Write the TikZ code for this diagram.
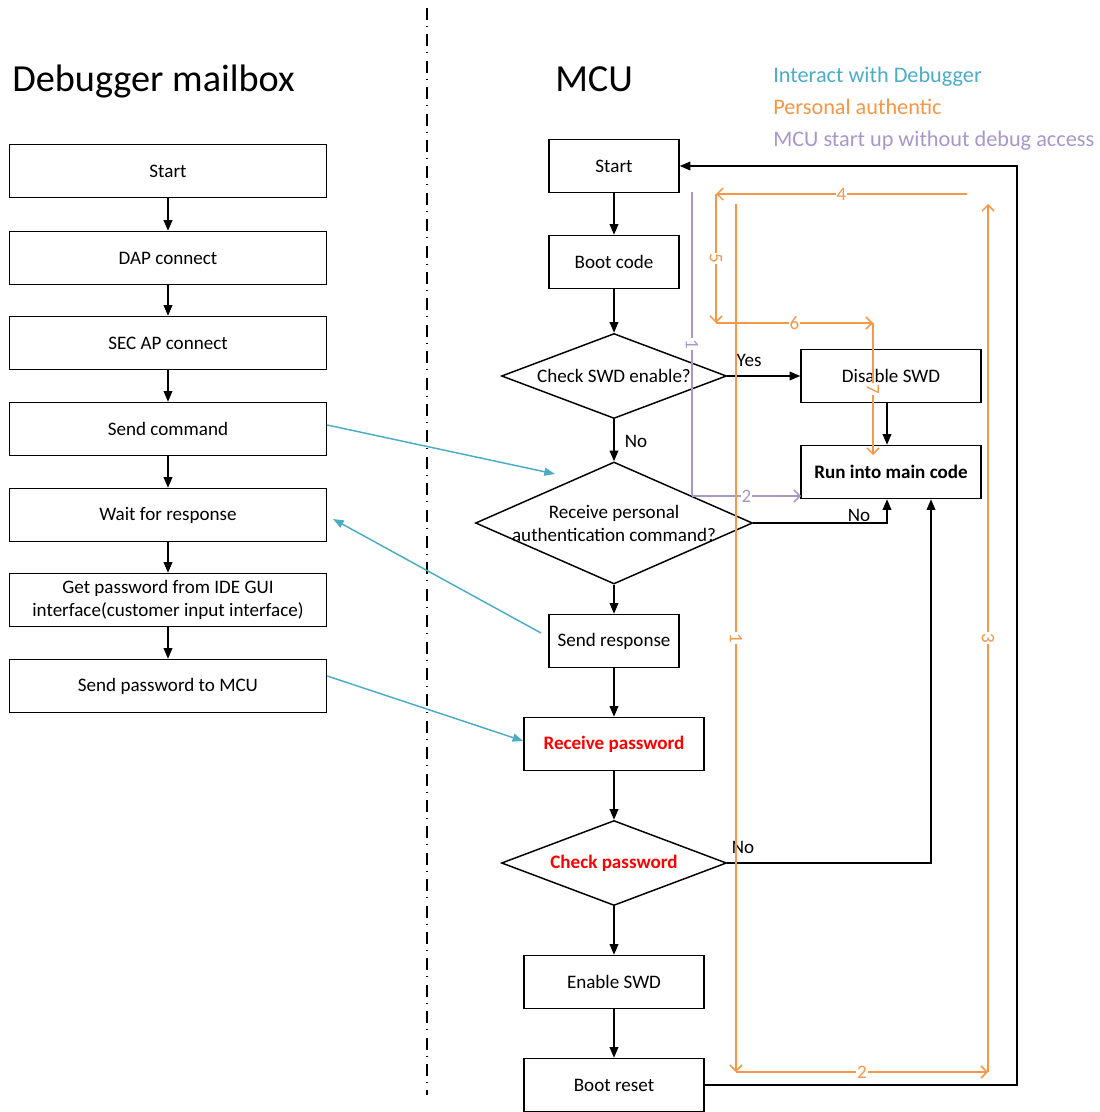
\documentclass[tikz,border=0pt]{standalone}
\usepackage{fontspec}
\setmainfont{Carlito}
\usetikzlibrary{arrows.meta,shapes.geometric,calc}
\definecolor{dbgcyan}{HTML}{4BACC6}
\definecolor{authorange}{HTML}{F79646}
\definecolor{bootpurple}{HTML}{A897C8}
\begin{document}
\begin{tikzpicture}[x=0.75pt,y=-0.75pt,
  txt/.style={font=\fontsize{14.3}{17.25}\selectfont},
  box/.style={draw, line width=1.1pt, inner sep=0pt, minimum height=39.75pt, align=center, txt},
  lbox/.style={box, minimum width=237.75pt},
  sbox/.style={box, minimum width=97.5pt},
  wbox/.style={box, minimum width=135pt},
  dia/.style={diamond, draw, line width=1.1pt, inner sep=0pt},
  flow/.style={line width=1.1pt, -{Triangle[length=8pt,width=6.5pt]}},
  link/.style={dbgcyan, line width=1.1pt, -{Triangle[length=8pt,width=6pt]}},
  auth/.style={authorange, line width=1.1pt, -{Straight Barb[length=4.5pt,width=9pt]}},
  bootln/.style={bootpurple, line width=1.1pt},
  boot/.style={bootln, -{Straight Barb[length=4.5pt,width=9pt]}},
  tag/.style={fill=white, inner sep=0.6pt, txt},
  redtxt/.style={text=red, font=\fontsize{14.3}{17.25}\selectfont\bfseries},
  title/.style={anchor=base west, inner sep=0pt, font=\fontsize{28.7}{34}\selectfont},
  legend/.style={anchor=base west, inner sep=0pt, font=\fontsize{16.7}{20}\selectfont}
]
\useasboundingbox (0,0) rectangle (1099,1112);

% headings and legend
\node[title] (tdbg) at (12,92) {Debugger mailbox};
\node[title] (tmcu) at (555,92) {MCU};
\node[legend, text=dbgcyan] (lgcyan) at (773,83) {Interact with Debugger};
\node[legend, text=authorange] (lgorange) at (773,115) {Personal authentic};
\node[legend, text=bootpurple] (lgpurple) at (773,147) {MCU start up without debug access};

% dash-dot separator
\coordinate (septop) at (427,8);
\coordinate (sepbot) at (427,1095);
\draw[line width=1.1pt, dash pattern=on 9pt off 4.5pt on 0.8pt off 5.5pt] (septop) -- (sepbot);

% debugger mailbox column
\node[lbox] (dstart) at (168,171) {Start};
\node[lbox] (dap)    at (168,258) {DAP connect};
\node[lbox] (secap)  at (168,343) {SEC AP connect};
\node[lbox] (scmd)   at (168,429) {Send command};
\node[lbox] (wait)   at (168,515) {Wait for response};
\node[lbox] (getpw)  at (168,600) {Get password from IDE GUI\\interface(customer input interface)};
\node[lbox] (spw)    at (168,686) {Send password to MCU};
\draw[flow] (dstart) -- (dap);
\draw[flow] (dap) -- (secap);
\draw[flow] (secap) -- (scmd);
\draw[flow] (scmd) -- (wait);
\draw[flow] (wait) -- (getpw);
\draw[flow] (getpw) -- (spw);

% MCU column
\node[sbox] (rstart) at (614,166) {Start};
\node[sbox] (boot)   at (614,262) {Boot code};
\node[dia, minimum width=168.75pt, minimum height=63.75pt] (chk) at (614,376) {};
\node[txt] (chktxt) at (614,376) {Check SWD enable?};
\node[dia, minimum width=207.75pt, minimum height=91.5pt] (rcv) at (614,523) {};
\node[txt, align=center] (rcvtxt) at (614,523) {Receive personal\\authentication command?};
\node[sbox] (sresp) at (614,641) {Send response};
\node[wbox, redtxt] (rpw) at (614,744) {Receive password};
\node[dia, minimum width=168.75pt, minimum height=63.75pt] (chkpw) at (614,863) {};
\node[redtxt] (chkpwtxt) at (614,863) {Check password};
\node[wbox] (enswd) at (614,982) {Enable SWD};
\node[wbox] (reset) at (614,1085) {Boot reset};
\node[wbox] (dis)  at (891,376) {Disable SWD};
\node[wbox, font=\fontsize{14.3}{17.25}\selectfont\bfseries] (main) at (891,472) {Run into main code};

\draw[flow] (rstart) -- (boot);
\draw[flow] (boot) -- (chk.north);
\draw[flow] (chk.south) -- (rcv.north);
\draw[flow] (rcv.south) -- (sresp);
\draw[flow] (sresp) -- (rpw);
\draw[flow] (rpw) -- (chkpw.north);
\draw[flow] (chkpw.south) -- (enswd);
\draw[flow] (enswd) -- (reset);
\draw[flow] (chk.east) -- (dis.west);
\draw[flow] ($(dis.south)+(-4,0)$) -- ($(main.north)+(-4,0)$);
\draw[flow] (rcv.east) -| ($(main.south)+(-4,0)$);
\draw[flow] (chkpw.east) -| ($(main.south)+(40,0)$);
\coordinate (loopx) at (1017,0);
\draw[flow] (reset.east) -- (reset.east -| loopx) |- (rstart.east);

\node[txt] (lyes) at (749,360) {Yes};
\node[txt] (lno1) at (636,441) {No};
\node[txt] (lno2) at (859,515) {No};
\node[txt] (lno3) at (743,847) {No};

% messages exchanged with the debugger
\coordinate (cmdtip) at (555,474);
\draw[link] ($(scmd.east)+(0,-4)$) -- (cmdtip);
\coordinate (resptail) at (541,633);
\coordinate (resptip) at (333,519);
\draw[link] (resptail) -- (resptip);
\draw[link] ($(spw.east)+(0,-10)$) -- ($(rpw.west)+(0,-3)$);

% start-up path without debug access
\coordinate (p1) at (692,192);
\coordinate (p2) at (692,496);
\coordinate (p3) at (801,496);
\draw[bootln] (p1) -- node[tag, text=bootpurple, rotate=-90] (pn1) {1} (p2);
\draw[boot] (p2) -- node[tag, text=bootpurple] (pn2) {2} (p3);

% personal authentication path
\coordinate (a4s) at (967,194);
\coordinate (a4e) at (716,194);
\coordinate (a5e) at (716,323);
\coordinate (a6e) at (873,323);
\coordinate (a7e) at (873,455);
\draw[auth] (a4s) -- node[tag, text=authorange] (on4) {4} (a4e);
\draw[auth] (a4e) -- node[tag, text=authorange, rotate=-90] (on5) {5} (a5e);
\draw[auth] (a5e) -- node[tag, text=authorange, pos=0.5] (on6) {6} (a6e);
\draw[auth] (a6e) -- node[tag, text=authorange, rotate=-90, pos=0.5] (on7) {7} (a7e);
\coordinate (b1s) at (736,204);
\coordinate (b1e) at (736,1072);
\coordinate (b2e) at (988,1072);
\coordinate (b3e) at (988,204);
\draw[auth] (b1s) -- node[tag, text=authorange, rotate=-90, pos=0.5] (on1) {1} (b1e);
\draw[auth] (b1e) -- node[tag, text=authorange] (on2) {2} (b2e);
\draw[auth] (b2e) -- node[tag, text=authorange, rotate=-90] (on3) {3} (b3e);
\end{tikzpicture}
\end{document}
